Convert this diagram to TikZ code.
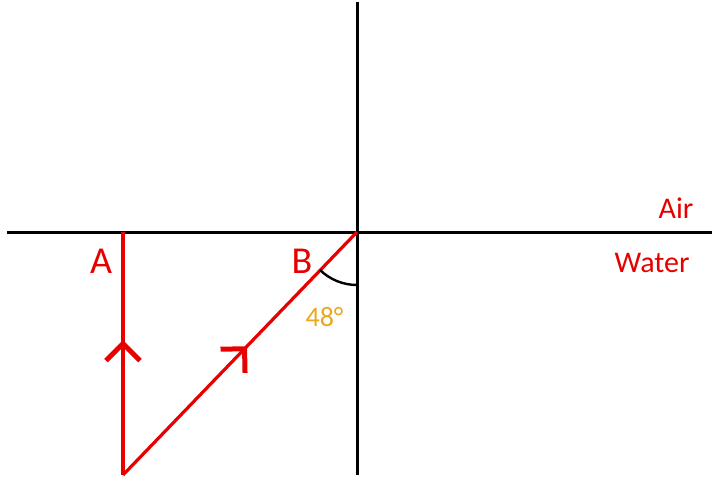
\documentclass[tikz,border=0pt]{standalone}
\usepackage{fontspec}
\setmainfont{Carlito}
\usetikzlibrary{arrows.meta,decorations.markings}
\definecolor{rayred}{RGB}{230,0,0}
\definecolor{angorange}{RGB}{235,168,30}
\tikzset{
  axis/.style={line width=3pt, black},
  ray/.style={line width=3.2pt, rayred},
  chev/.style={postaction={decorate, decoration={markings,
    mark=at position #1 with {\arrow[line width=5pt]{Straight Barb[length=17pt, width=34pt]}}}}},
  lbl/.style={text=rayred, inner sep=0pt},
}
\begin{document}
\begin{tikzpicture}[x=1pt, y=-1pt]
\useasboundingbox (0,0) rectangle (720,485);
\coordinate (O) at (357,232);
\coordinate (A) at (123,232);
\coordinate (P) at (123,475);
\coordinate (left) at (7,232);
\coordinate (right) at (712,232);
\coordinate (top) at (357,2);
\coordinate (bottom) at (357,475);
\draw[axis] (left) -- (right);
\draw[axis] (top) -- (bottom);
\draw[ray, chev=0.555] (P) -- (A);
\draw[ray, chev=0.53] (P) -- (O);
\draw[line width=2.4pt] ([shift={(134:53)}]O) arc[start angle=134, end angle=90, radius=53];
\node[lbl, font=\fontsize{38}{40}\selectfont] (la) at (101,261) {A};
\node[lbl, font=\fontsize{38}{40}\selectfont] (lb) at (302,261) {B};
\node[lbl, font=\fontsize{30}{32}\selectfont] (air) at (676,208) {Air};
\node[lbl, font=\fontsize{30}{32}\selectfont] (water) at (652,263) {Water};
\node[text=angorange, inner sep=0pt, font=\fontsize{28}{30}\selectfont] (ang) at (324.5,317) {48°};
\end{tikzpicture}
\end{document}
